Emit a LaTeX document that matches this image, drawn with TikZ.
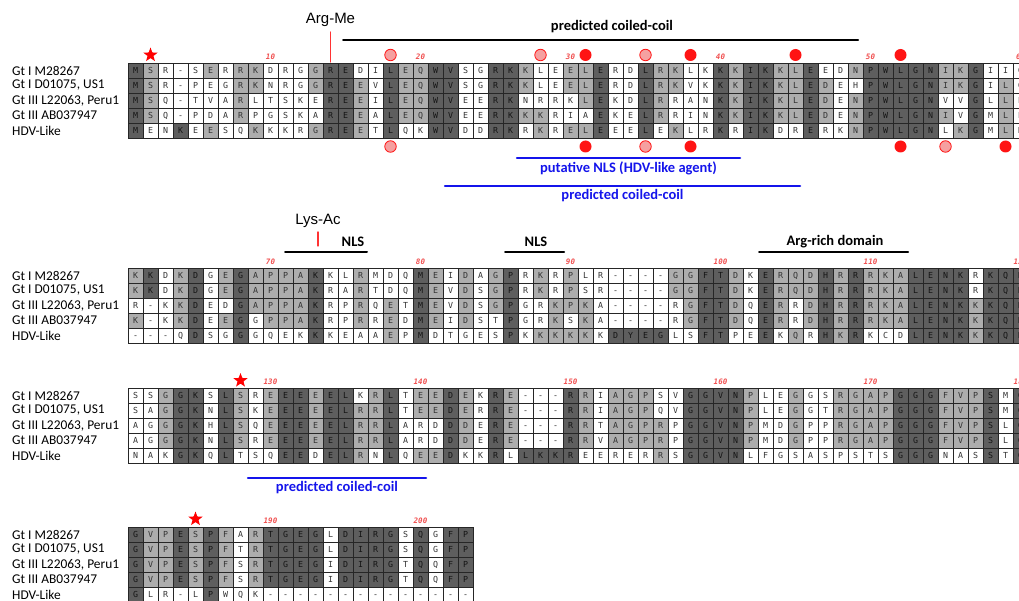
\documentclass[tikz,border=0pt]{standalone}
\usepackage{fontspec}
\usepackage{xstring}
\setmainfont{Carlito}
\newfontfamily\resfont{DejaVu Sans Mono}
\newfontfamily\arialfont{Liberation Sans}
\usetikzlibrary{shapes.geometric,positioning}
\definecolor{annblue}{RGB}{20,20,235}
\definecolor{numred}{RGB}{240,80,80}
\definecolor{dotpink}{RGB}{245,160,160}
\definecolor{dotred}{RGB}{255,20,20}

\tikzset{
  res/.style={draw=black!85, line width=0.5pt, minimum size=15pt, inner sep=0pt, outer sep=0pt,
    text height=6.1pt, text depth=0pt,
    anchor=north west, font=\resfont\fontsize{8.3}{9}\selectfont, text=black!80},
  resd/.style={res, fill=black!63, text=black!92},
  resl/.style={res, fill=black!32},
  resw/.style={res, fill=white},
  rowlab/.style={anchor=west, inner sep=0pt, font=\fontsize{13.4}{14}\selectfont},
  numlab/.style={inner sep=0pt, text=numred, font=\resfont\bfseries\itshape\fontsize{7.5}{8}\selectfont},
  bartxt/.style={inner sep=0pt, font=\bfseries\fontsize{14.5}{16}\selectfont},
  topbar/.style={line width=2pt},
  bluebar/.style={line width=2.5pt, annblue},
  ptm/.style={inner sep=0pt, font=\arialfont\fontsize{15}{16}\selectfont},
  redtick/.style={line width=1.2pt, red!80},
  pinkdot/.style={circle, draw=dotred, line width=0.8pt, fill=dotpink, minimum size=11.5pt, inner sep=0pt},
  reddot/.style={circle, fill=dotred, minimum size=12pt, inner sep=0pt},
  redstar/.style={star, star points=5, star point ratio=2.4, fill=red, minimum size=15pt, inner sep=0pt},
}

% one alignment row: block, row, top y, residues, shades (d/l/w)
\newcommand\seqrow[5]{%
  \StrLen{#4}[\seqlen]%
  \foreach \i in {1,...,\seqlen}{%
    \StrChar{#4}{\i}[\seqres]\StrChar{#5}{\i}[\seqshd]%
    \node[res\seqshd] (b#1r#2c\i) at ({128+(\i-1)*15},{#3+(#2-1)*15}) {\seqres};
  }%
}
% the five names left of a block
\newcommand\rowlabels[1]{%
  \node[rowlab] (l#1r1) at (12,0 |- b#1r1c1) {Gt I M28267};
  \node[rowlab] (l#1r2) at (12,0 |- b#1r2c1) {Gt I D01075, US1};
  \node[rowlab] (l#1r3) at (12,0 |- b#1r3c1) {Gt III L22063, Peru1};
  \node[rowlab] (l#1r4) at (12,0 |- b#1r4c1) {Gt III AB037947};
  \node[rowlab] (l#1r5) at (12,0 |- b#1r5c1) {HDV-Like};
}

\begin{document}
\begin{tikzpicture}[x=1pt, y=-1pt, line cap=round]
\useasboundingbox (0,0) rectangle (1019,601);
\clip (0,0) rectangle (1019,601);

% block 1 (1-60)
\seqrow{1}{1}{63}{MSR-SERRKDRGGREDILEQWVSGRKKLEELERDLRKLKKKIKKLEEDNPWLGNIKGIIG}{dlwwwlwllwwwlddwwdllddwwddlwwlldwwdllwwdlddlldwwldddddlldwww}
\seqrow{1}{2}{63}{MSR-PEGRKNRGGREEVLEQWVSGRKKLEELERDLRKVKKKIKKLEDEHPWLGNIKGILG}{dlwwwwwllwwwlddlwdllddwwddlwwlldwwdllwwdlddlldlwwdddddlldwlw}
\seqrow{1}{3}{63}{MSQ-TVARLTSKEREEILEQWVEERKNRRKLEKDLRRANKKIKKLEDENPWLGNVVGLLP}{dlwwwwwlwwwwwddlwdllddwwddwwwwldwwdlwwwdlddlldlwldddddwwdwlw}
\seqrow{1}{4}{63}{MSQ-PDARPGSKAREEALEQWVEERKKKRIAEKELRRINKKIKKLEDENPWLGNIVGMLP}{dlwwwwwlwwwwwddlwdllddwwddllwwwdwwdlwwwdlddlldlwldddddlwdwlw}
\seqrow{1}{5}{63}{MENKEESQKKKRGREETLQKWVDDRKRKRELEEELEKLRKRIKDRERKNPWLGNLKGMLK}{dwwdwlwwlwwwlddlwdwwddwwddwlwlldwwdwlwwdwddwwdwwldddddwldwlw}
\rowlabels{1}
\foreach \c/\n in {10/10,20/20,30/30,40/40,50/50,60/60}
  \node[numlab] (n1c\c) at ([yshift=6pt]b1r1c\c.north) {\n};
\node[redstar] (star1) at ([yshift=8pt]b1r1c2.north) {};
\node[ptm] (argme) at (330.5,20) {Arg-Me};
\draw[redtick, shorten <=5pt] (argme.south) -- ([yshift=1pt]b1r1c14.north);
\draw[topbar] (343,40) -- (858,40);
\node[bartxt] (cc1) at (612,27) {predicted coiled-coil};
\foreach \c/\s in {18/pinkdot,28/pinkdot,31/reddot,35/pinkdot,38/reddot,45/reddot,52/reddot}
  \node[\s] (up\c) at ([yshift=8pt]b1r1c\c.north) {};
\foreach \c/\s in {18/pinkdot,31/reddot,35/pinkdot,38/reddot,52/reddot,55/pinkdot,59/reddot}
  \node[\s] (dn\c) at ([yshift=-8.5pt]b1r5c\c.south) {};
\draw[bluebar] (517,158) -- (740,158) node[midway, below=2pt, bartxt, text=annblue] (nls1) {putative NLS (HDV-like agent)};
\draw[bluebar] (445,186) -- (800,186) node[midway, below=2pt, bartxt, text=annblue] (cc2) {predicted coiled-coil};

% block 2 (61-120)
\seqrow{2}{1}{268}{KKDKDGEGAPPAKKLRMDQMEIDAGPRKRPLR----GGFTDKERQDHRRRKALENKRKQK}{ldwldwldlllldwwlwwwdlwlwldwlwlwwwwwwllddlwdllldldlllddddwddd}
\seqrow{2}{2}{268}{KKDKDGEGAPPAKRARTDQMEVDSGPRKRPSR----GGFTDKERQDHRRRKALENKRKQK}{ldwldwldlllldwwlwwwdlwlwldwlwlwwwwwwllddlwdllldldlllddddwddd}
\seqrow{2}{3}{268}{R-KKDEDGAPPAKRPRQETMEVDSGPGRKPKA----RGFTDQERRDHRRRKALENKKKQK}{wwwldwwdlllldwwlwlwdlwlwldwwlllwwwwwwlddlwdlwldldlllddddlddd}
\seqrow{2}{4}{268}{K-KKDEEGGPPAKRPRREDMEIDSTPGRKSKA----RGFTDQERRDHRRRKALENKKKQK}{lwwldwldwllldwwlwlwdlwlwwdwwlwlwwwwwwlddlwdlwldldlllddddlddd}
\seqrow{2}{5}{268}{---QDSGGGQEKKKEAAEPMDTGESPKKKKKKDYEGLSFTPEEKQRHKRKCDLENKKKQK}{wwwwdwwdwwwwdwwwwlwdwwwwwdwllllwddddwwddwwdwlwdldwwwddddlddd}
\rowlabels{2}
\foreach \c/\n in {10/70,20/80,30/90,40/100,50/110,60/120}
  \node[numlab] (n2c\c) at ([yshift=6pt]b2r1c\c.north) {\n};
\node[ptm] (lysac) at (318,221) {Lys-Ac};
\coordinate (lysend) at (318,246);
\draw[redtick, shorten <=4pt] (lysac.south) -- (lysend);
\draw[topbar] (285,252) -- (367,252);
\node[bartxt] (nlsa) at (353,242) {NLS};
\draw[topbar] (505,252) -- (564,252);
\node[bartxt] (nlsb) at (536,242) {NLS};
\draw[topbar] (759,252) -- (908,252);
\node[bartxt] (argrich) at (835,242) {Arg-rich domain};

% block 3 (121-180)
\seqrow{3}{1}{388}{SSGGKSLSREEEEELKRLTEEDEKRE---RRIAGPSVGGVNPLEGGSRGAPGGGFVPSMG}{wwlddwdlwlddlddwldwlldlwdlwwwdlwlllwwddddlwwlwwlllldddllldwd}
\seqrow{3}{2}{388}{SAGGKNLSKEEEEELRRLTEEDERRE---RRIAGPQVGGVNPLEGGTRGAPGGGFVPSMG}{wwlddwdlwlddlddlldwlldlwdlwwwdlwlllwwddddlwwlwwlllldddllldwd}
\seqrow{3}{3}{388}{AGGGKHLSQEEEEELRRLARDDDERE---RRTAGPRPGGVNPMDGPPRGAPGGGFVPSLG}{wwlddwdlwlddlddlldwwwdlwdlwwwdlwllllwddddlwwlwwlllldddllldwd}
\seqrow{3}{4}{388}{AGGGKNLSREEEEELRRLARDDDERE---RRVAGPRPGGVNPMDGPPRGAPGGGFVPSLG}{wwlddwdlwlddlddlldwwwdlwdlwwwdlwllllwddddlwwlwwlllldddllldwd}
\seqrow{3}{5}{388}{NAKGKQLTSQEEDELRNLQEEDKKRLLKKREERERRSGGVNLFGSASPSTSGGGNASSTG}{wwwddwdwwwddwddlwdwlldwwdwddddwwwwwlwddddwwwwwwwwwwdddwwwdwd}
\rowlabels{3}
\foreach \c/\n in {10/130,20/140,30/150,40/160,50/170,60/180}
  \node[numlab] (n3c\c) at ([yshift=6pt]b3r1c\c.north) {\n};
\node[redstar] (star3) at ([yshift=7.5pt]b3r1c8.north) {};
\draw[bluebar] (248,478) -- (426,478) node[midway, below=2pt, bartxt, text=annblue] (cc3) {predicted coiled-coil};

% block 4 (181-203)
\seqrow{4}{1}{527}{GVPESPFARTGEGLDIRGSQGFP}{dlldldlwlddddwddddwdwdd}
\seqrow{4}{2}{527}{GVPESPFTRTGEGLDIRGSQGFP}{dlldldlwlddddwddddwdwdd}
\seqrow{4}{3}{527}{GVPESPFSRTGEGIDIRGTQQFP}{dlldldlwlddddwddddwdwdd}
\seqrow{4}{4}{527}{GVPESPFSRTGEGIDIRGTQQFP}{dlldldlwlddddwddddwdwdd}
\seqrow{4}{5}{527}{GLR-LPWQK--------------}{dwwwwdwwwwwwwwwwwwwwwww}
\rowlabels{4}
\foreach \c/\n in {10/190,20/200}
  \node[numlab] (n4c\c) at ([yshift=6pt]b4r1c\c.north) {\n};
\node[redstar] (star4) at ([yshift=8pt]b4r1c5.north) {};
\end{tikzpicture}
\end{document}
